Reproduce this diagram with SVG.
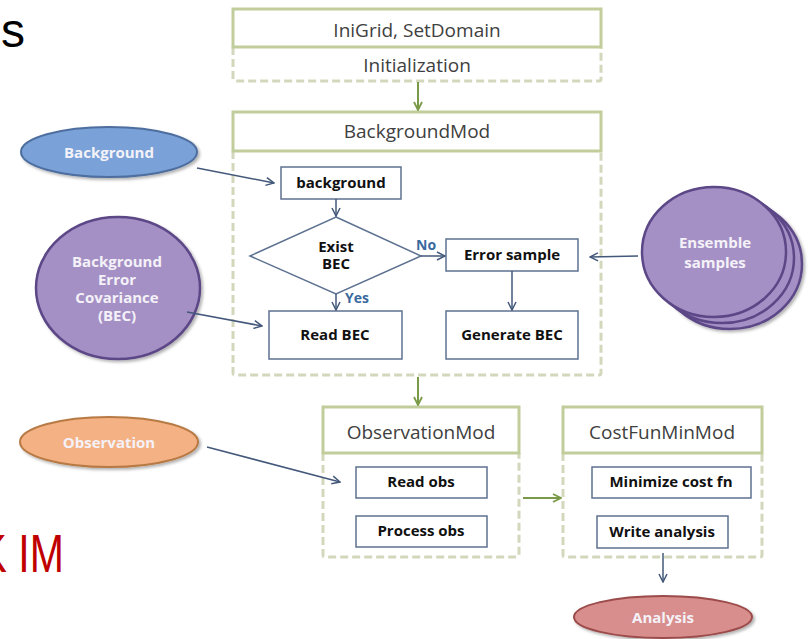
<svg xmlns="http://www.w3.org/2000/svg" width="809" height="639" viewBox="0 0 809 639">
<defs>
<style>
.title{font-family:"Open Sans","Liberation Sans",sans-serif;font-size:19px;fill:#404040;text-anchor:middle}
.inner{font-family:"Open Sans","Liberation Sans",sans-serif;font-size:15px;font-weight:bold;fill:#111;text-anchor:middle}
.elab{font-family:"Open Sans","Liberation Sans",sans-serif;font-size:15px;font-weight:bold;fill:#f4f2f8;text-anchor:middle}
.yn{font-family:"Open Sans","Liberation Sans",sans-serif;font-size:14px;font-weight:bold;fill:#3a6a9e}
.solid{fill:#fff;stroke:#c2cd9c;stroke-width:3}
.dash{fill:none;stroke:#d3d8bd;stroke-width:3;stroke-dasharray:8 4}
.ibox{fill:#fff;stroke:#5d7190;stroke-width:1.5}
.blue{fill:none;stroke:#43587a;stroke-width:1.5;marker-end:url(#ab)}
.green{fill:none;stroke:#7a9a48;stroke-width:2;marker-end:url(#ag)}
</style>
<marker id="ab" viewBox="0 0 10 10" refX="9" refY="5" markerWidth="10" markerHeight="10" markerUnits="userSpaceOnUse" orient="auto"><path d="M1,1 L9,5 L1,9" fill="none" stroke="#43587a" stroke-width="1.5"/></marker>
<marker id="ag" viewBox="0 0 10 10" refX="9" refY="5" markerWidth="10" markerHeight="10" markerUnits="userSpaceOnUse" orient="auto"><path d="M1,1 L9,5 L1,9" fill="none" stroke="#7a9a48" stroke-width="1.8"/></marker>
<filter id="sh" x="-10%" y="-10%" width="125%" height="130%"><feDropShadow dx="2" dy="2" stdDeviation="1.5" flood-color="#000" flood-opacity="0.3"/></filter>
</defs>
<rect width="809" height="639" fill="#fff"/>

<text x="1" y="47" font-family="Liberation Sans,Arial,sans-serif" font-size="48" fill="#000">s</text>
<text transform="translate(0,572) scale(0.76,1)" font-family="Liberation Sans,Arial,sans-serif" font-size="54" fill="#c00000"><tspan x="-27">K</tspan><tspan x="24">IM</tspan></text>

<g id="init">
<path class="dash" d="M233,47 V79 Q233,81 235,81 H599 Q601,81 601,79 V47"/>
<rect class="solid" x="233" y="9" width="368" height="38"/>
<text class="title" x="417" y="37">IniGrid, SetDomain</text>
<text class="title" x="417" y="72">Initialization</text>
</g>

<g id="backgroundmod">
<path class="dash" d="M233,151 V373 Q233,375 235,375 H599 Q601,375 601,373 V151"/>
<rect class="solid" x="233" y="112" width="368" height="39"/>
<text class="title" x="417" y="138">BackgroundMod</text>
</g>

<g id="observationmod">
<path class="dash" d="M323,453 V555 Q323,557 325,557 H517 Q519,557 519,555 V453"/>
<rect class="solid" x="323" y="407" width="196" height="46"/>
<text class="title" x="421" y="439">ObservationMod</text>
</g>

<g id="costfunminmod">
<path class="dash" d="M563,453 V555 Q563,557 565,557 H760 Q762,557 762,555 V453"/>
<rect class="solid" x="563" y="407" width="199" height="46"/>
<text class="title" x="662" y="439">CostFunMinMod</text>
</g>

<g id="background-box"><rect class="ibox" x="281" y="167" width="120" height="32"/><text class="inner" x="341" y="188" font-size="14.5">background</text></g>
<g id="exist-bec"><polygon class="ibox" points="336,217 421,256 336,294 250,256"/><text class="inner" x="336" y="252">Exist<tspan x="336" dy="17">BEC</tspan></text></g>
<g id="read-bec"><rect class="ibox" x="269" y="311" width="133" height="48"/><text class="inner" x="335" y="340">Read BEC</text></g>
<g id="error-sample"><rect class="ibox" x="446" y="239" width="132" height="32"/><text class="inner" x="512" y="260">Error sample</text></g>
<g id="generate-bec"><rect class="ibox" x="446" y="311" width="132" height="48"/><text class="inner" x="512" y="340">Generate BEC</text></g>
<g id="read-obs"><rect class="ibox" x="356" y="467" width="131" height="31"/><text class="inner" x="421" y="487">Read obs</text></g>
<g id="process-obs"><rect class="ibox" x="356" y="516" width="131" height="31"/><text class="inner" x="421" y="536">Process obs</text></g>
<g id="minimize"><rect class="ibox" x="592" y="467" width="159" height="31"/><text class="inner" x="671" y="487">Minimize cost fn</text></g>
<g id="write-analysis"><rect class="ibox" x="597" y="516" width="131" height="32"/><text class="inner" x="662" y="537">Write analysis</text></g>

<g id="background-ell"><ellipse cx="109" cy="152" rx="88" ry="25" fill="#7aa2d8" stroke="#4d6e9e" stroke-width="2" filter="url(#sh)"/><text class="elab" x="109" y="158" font-size="16.5">Background</text></g>
<g id="bec-ell"><ellipse cx="118" cy="288" rx="82" ry="71" fill="#a590c5" stroke="#5c4787" stroke-width="2.5" filter="url(#sh)"/>
<text class="elab" x="117" y="267">Background<tspan x="117" dy="18">Error</tspan><tspan x="117" dy="18">Covariance</tspan><tspan x="117" dy="18">(BEC)</tspan></text></g>
<g id="ensemble">
<ellipse cx="730" cy="264" rx="72" ry="65" fill="#a590c5" stroke="#5c4787" stroke-width="2.5" filter="url(#sh)"/>
<ellipse cx="722" cy="258" rx="72" ry="65" fill="#a590c5" stroke="#5c4787" stroke-width="2.5"/>
<ellipse cx="714" cy="252" rx="72" ry="65" fill="#a590c5" stroke="#5c4787" stroke-width="2.5"/>
<text class="elab" x="715" y="248" font-size="16">Ensemble<tspan x="715" dy="20">samples</tspan></text></g>
<g id="observation-ell"><ellipse cx="109" cy="442" rx="89" ry="25" fill="#f4b183" stroke="#b87a45" stroke-width="2" filter="url(#sh)"/><text class="elab" x="109" y="448" font-size="16.5">Observation</text></g>
<g id="analysis-ell"><ellipse cx="663" cy="617" rx="89" ry="21" fill="#d88e8d" stroke="#9c4b4b" stroke-width="2" filter="url(#sh)"/><text class="elab" x="663" y="623" font-size="16.5">Analysis</text></g>

<g id="connectors">
<line class="green" x1="418" y1="82" x2="418" y2="110"/>
<line class="green" x1="418" y1="377" x2="418" y2="405"/>
<line class="green" x1="523" y1="498" x2="561" y2="498"/>
<line class="blue" x1="197" y1="168" x2="274" y2="183"/>
<line class="blue" x1="187" y1="312" x2="262" y2="326"/>
<line class="blue" x1="638" y1="256" x2="590" y2="257"/>
<line class="blue" x1="207" y1="447" x2="340" y2="482"/>
<line class="blue" x1="336" y1="199" x2="336" y2="216"/>
<line class="blue" x1="336" y1="294" x2="336" y2="310"/>
<line class="blue" x1="421" y1="256" x2="445" y2="256"/>
<line class="blue" x1="512" y1="271" x2="512" y2="310"/>
<line class="blue" x1="663" y1="553" x2="663" y2="582"/>
<text class="yn" x="416" y="250">No</text>
<text class="yn" x="345" y="303">Yes</text>
</g>
</svg>
